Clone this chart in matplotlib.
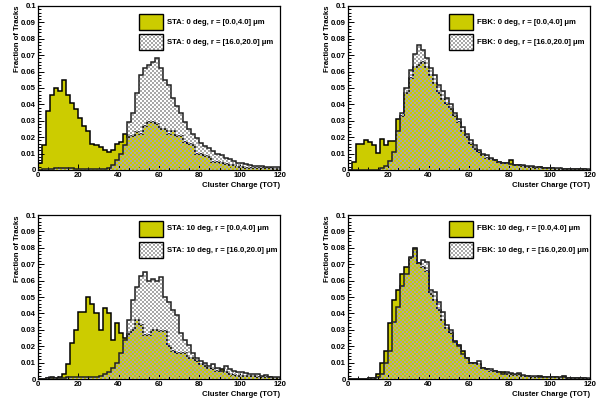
import numpy as np
import matplotlib
matplotlib.use("Agg")
import matplotlib.pyplot as plt
from matplotlib.patches import Rectangle
from matplotlib.ticker import MultipleLocator

# bin edges: 60 bins of 2 TOT from 0 to 120
edges = np.arange(0, 122, 2)

sta0_r0 = [0.004, 0.015, 0.036, 0.046, 0.050, 0.048, 0.055, 0.046, 0.041, 0.037,
           0.0315, 0.027, 0.024, 0.016, 0.015, 0.014, 0.012, 0.011, 0.012, 0.016,
           0.017, 0.022, 0.020, 0.021, 0.023, 0.022, 0.027, 0.029, 0.029, 0.028,
           0.025, 0.025, 0.022, 0.024, 0.021, 0.021, 0.017, 0.016, 0.015, 0.010,
           0.010, 0.0085, 0.008, 0.005, 0.005, 0.004, 0.0035, 0.003, 0.003, 0.002,
           0.002, 0.0015, 0.0015, 0.001, 0.0015, 0.001, 0.001, 0.001, 0.0008, 0.0008]
sta0_r16 = [0.0003, 0.0005, 0.0005, 0.0008, 0.001, 0.001, 0.0012, 0.0012, 0.001, 0.0008,
            0.0006, 0.0005, 0.0005, 0.0004, 0.0004, 0.0005, 0.0008, 0.001, 0.003, 0.006,
            0.010, 0.015, 0.029, 0.035, 0.047, 0.058, 0.062, 0.064, 0.066, 0.068,
            0.062, 0.055, 0.052, 0.044, 0.039, 0.035, 0.029, 0.025, 0.0217, 0.0196,
            0.0166, 0.0146, 0.0136, 0.0115, 0.010, 0.009, 0.0075, 0.0065, 0.0055, 0.0045,
            0.004, 0.0035, 0.003, 0.0026, 0.0025, 0.0022, 0.002, 0.002, 0.0018, 0.002]
fbk0_r0 = [0.0, 0.005, 0.016, 0.016, 0.018, 0.017, 0.015, 0.0105, 0.019, 0.015,
           0.0175, 0.0175, 0.031, 0.033, 0.047, 0.056, 0.063, 0.064, 0.066, 0.063,
           0.058, 0.053, 0.047, 0.043, 0.040, 0.037, 0.033, 0.029, 0.024, 0.020,
           0.016, 0.013, 0.011, 0.009, 0.0075, 0.0065, 0.006, 0.005, 0.004, 0.004,
           0.006, 0.003, 0.0028, 0.0025, 0.002, 0.002, 0.0015, 0.0018, 0.0012, 0.001,
           0.001, 0.0008, 0.0008, 0.0007, 0.0006, 0.0005, 0.0005, 0.0004, 0.0004, 0.0003]
fbk0_r16 = [0.0, 0.0, 0.0, 0.0, 0.0, 0.0, 0.0, 0.0, 0.001, 0.0025,
            0.0055, 0.011, 0.024, 0.035, 0.050, 0.061, 0.071, 0.076, 0.073, 0.068,
            0.062, 0.058, 0.052, 0.048, 0.044, 0.040, 0.035, 0.031, 0.026, 0.022,
            0.018, 0.015, 0.012, 0.010, 0.009, 0.0075, 0.006, 0.005, 0.0045, 0.004,
            0.0035, 0.003, 0.003, 0.0028, 0.0025, 0.0022, 0.002, 0.0018, 0.0015, 0.0015,
            0.0012, 0.001, 0.001, 0.0009, 0.0008, 0.0007, 0.0006, 0.0005, 0.0005, 0.0004]
sta10_r0 = [0.0003, 0.0003, 0.0005, 0.001, 0.0005, 0.0015, 0.003, 0.009, 0.022, 0.030,
            0.041, 0.041, 0.050, 0.046, 0.040, 0.030, 0.043, 0.040, 0.024, 0.034,
            0.028, 0.025, 0.0275, 0.030, 0.0357, 0.033, 0.027, 0.027, 0.030, 0.030,
            0.029, 0.029, 0.020, 0.017, 0.016, 0.016, 0.016, 0.013, 0.013, 0.011,
            0.009, 0.008, 0.007, 0.006, 0.005, 0.006, 0.004, 0.003, 0.0025, 0.002,
            0.002, 0.0018, 0.002, 0.0018, 0.0015, 0.0012, 0.001, 0.001, 0.0008, 0.0008]
sta10_r16 = [0.0003, 0.0003, 0.0005, 0.0005, 0.0005, 0.0005, 0.0008, 0.001, 0.0015, 0.0012,
             0.001, 0.0012, 0.001, 0.0015, 0.0015, 0.002, 0.003, 0.004, 0.007, 0.010,
             0.016, 0.024, 0.036, 0.048, 0.056, 0.063, 0.065, 0.060, 0.061, 0.060,
             0.062, 0.050, 0.047, 0.042, 0.039, 0.028, 0.024, 0.021, 0.016, 0.013,
             0.011, 0.010, 0.008, 0.009, 0.007, 0.005, 0.008, 0.006, 0.005, 0.0045,
             0.004, 0.0035, 0.003, 0.0028, 0.003, 0.002, 0.0022, 0.0015, 0.0015, 0.0015]
fbk10_r0 = [0.0, 0.0, 0.0, 0.0, 0.0003, 0.0008, 0.0005, 0.003, 0.010, 0.017,
            0.034, 0.048, 0.054, 0.064, 0.068, 0.074, 0.080, 0.071, 0.068, 0.066,
            0.052, 0.048, 0.042, 0.036, 0.031, 0.028, 0.023, 0.021, 0.017, 0.013,
            0.010, 0.010, 0.009, 0.007, 0.006, 0.005, 0.005, 0.004, 0.004, 0.003,
            0.003, 0.0025, 0.003, 0.002, 0.002, 0.0015, 0.0015, 0.002, 0.0012, 0.001,
            0.0015, 0.001, 0.0008, 0.002, 0.0008, 0.0006, 0.0005, 0.0004, 0.0004, 0.0003]
fbk10_r16 = [0.0, 0.0, 0.0, 0.0, 0.0003, 0.0005, 0.0005, 0.001, 0.003, 0.010,
             0.017, 0.035, 0.044, 0.057, 0.064, 0.0745, 0.0795, 0.071, 0.0725, 0.0715,
             0.054, 0.053, 0.047, 0.041, 0.033, 0.030, 0.0225, 0.020, 0.015, 0.013,
             0.010, 0.010, 0.011, 0.007, 0.006, 0.006, 0.0047, 0.004, 0.003, 0.004,
             0.0035, 0.003, 0.0035, 0.0025, 0.002, 0.002, 0.0018, 0.0015, 0.0015, 0.0012,
             0.001, 0.0012, 0.001, 0.001, 0.0008, 0.0008, 0.0006, 0.0005, 0.0005, 0.0004]

labels_r0 = ["STA: 0 deg, r = [0.0,4.0] \u03bcm", "FBK: 0 deg, r = [0.0,4.0] \u03bcm",
             "STA: 10 deg, r = [0.0,4.0] \u03bcm", "FBK: 10 deg, r = [0.0,4.0] \u03bcm"]
labels_r16 = ["STA: 0 deg, r = [16.0,20.0] \u03bcm", "FBK: 0 deg, r = [16.0,20.0] \u03bcm",
              "STA: 10 deg, r = [16.0,20.0] \u03bcm", "FBK: 10 deg, r = [16.0,20.0] \u03bcm"]

YELLOW = "#cccc00"
CHECK_GRAY = "#a8a8a8"
FONT = dict(family="Liberation Sans", weight="bold", size=5.6)

plt.rcParams["font.family"] = "Liberation Sans"
plt.rcParams["font.weight"] = "bold"

W, H = 609, 399


def checker(nx, ny):
    """RGBA checkerboard: gray squares, transparent in between."""
    img = np.zeros((ny, nx, 4))
    mask = (np.add.outer(np.arange(ny), np.arange(nx)) % 2) == 0
    img[mask, :3] = matplotlib.colors.to_rgb(CHECK_GRAY)
    img[mask, 3] = 1.0
    return img


def px_rect(left, top, width, height):
    """Axes rectangle from pixel coordinates (origin top-left)."""
    return [left / W, (H - top - height) / H, width / W, height / H]


def draw_panel(ax, low, high, lab_low, lab_high, box_y):
    ax.stairs(low, edges, fill=True, color=YELLOW, zorder=1)
    ax.stairs(low, edges, color="black", lw=1.1, zorder=2)

    clip = ax.stairs(high, edges, fill=True, facecolor="none", edgecolor="none")
    im = ax.imshow(checker(121, 82), extent=(0, 120, 0, 0.1), aspect="auto",
                   interpolation="nearest", origin="lower", zorder=3)
    im.set_clip_path(clip)
    ax.stairs(high, edges, color="#222222", lw=1.1, zorder=4)

    # legend boxes, ROOT style without frame
    bx0, bx1 = 101 / 242, 125 / 242
    (y1a, y1b), (y2a, y2b) = box_y
    ax.add_patch(Rectangle((bx0, y1a), bx1 - bx0, y1b - y1a, transform=ax.transAxes,
                           facecolor=YELLOW, edgecolor="black", lw=1.0,
                           clip_on=False, zorder=6))
    ax.imshow(checker(12, 8), extent=(bx0, bx1, y2a, y2b), transform=ax.transAxes,
              aspect="auto", interpolation="nearest", zorder=6, clip_on=False)
    ax.add_patch(Rectangle((bx0, y2a), bx1 - bx0, y2b - y2a, transform=ax.transAxes,
                           facecolor="none", edgecolor="black", lw=1.0,
                           clip_on=False, zorder=7))
    ax.text(0.532, (y1a + y1b) / 2, lab_low, transform=ax.transAxes,
            va="center", ha="left", **FONT)
    ax.text(0.532, (y2a + y2b) / 2, lab_high, transform=ax.transAxes,
            va="center", ha="left", **FONT)

    ax.set_xlim(0, 120)
    ax.set_ylim(0, 0.1)
    ax.xaxis.set_major_locator(MultipleLocator(20))
    ax.xaxis.set_minor_locator(MultipleLocator(5))
    ax.yaxis.set_minor_locator(MultipleLocator(0.002))
    yt = np.round(np.arange(0, 0.1001, 0.01), 2)
    ax.set_yticks(yt)
    ax.set_yticklabels(["0"] + ["%g" % v for v in yt[1:]])
    ax.tick_params(which="both", direction="in", top=False, right=False,
                   labelsize=5.6, pad=1.5, width=0.7)
    ax.tick_params(which="major", length=4.5)
    ax.tick_params(which="minor", length=2.2)
    for lbl in ax.get_xticklabels() + ax.get_yticklabels():
        lbl.set_fontweight("bold")
    for sp in ax.spines.values():
        sp.set_linewidth(0.9)

    ax.text(1.0, -0.075, "Cluster Charge (TOT)", transform=ax.transAxes,
            ha="right", va="top", **FONT)
    ax.text(-0.083, 1.0, "Fraction of Tracks", transform=ax.transAxes,
            ha="center", va="top", rotation=90, **FONT)


fig = plt.figure(figsize=(W / 100, H / 100), dpi=100)
panels = [
    (px_rect(38, 6, 242, 164), sta0_r0, sta0_r16),
    (px_rect(348, 6, 242, 164), fbk0_r0, fbk0_r16),
    (px_rect(38, 215, 242, 164), sta10_r0, sta10_r16),
    (px_rect(348, 215, 242, 164), fbk10_r0, fbk10_r16),
]
top_boxes = ((1 - 24 / 164, 1 - 8 / 164), (1 - 44 / 164, 1 - 28 / 164))
bottom_boxes = ((1 - 22 / 164, 1 - 6 / 164), (1 - 43 / 164, 1 - 27 / 164))

for i, (rect, low, high) in enumerate(panels):
    ax = fig.add_axes(rect)
    draw_panel(ax, low, high, labels_r0[i], labels_r16[i],
               top_boxes if i < 2 else bottom_boxes)

fig.savefig("out.png", dpi=100, facecolor="white")
